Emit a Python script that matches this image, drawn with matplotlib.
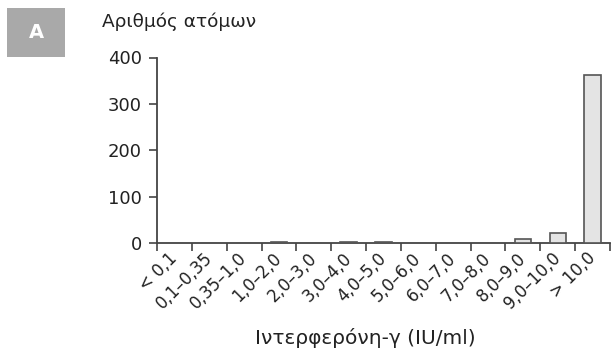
import matplotlib
matplotlib.use("Agg")
import matplotlib.pyplot as plt
import matplotlib.transforms as mtransforms

# Data
categories = ["< 0,1", "0,1–0,35", "0,35–1,0", "1,0–2,0", "2,0–3,0", "3,0–4,0",
              "4,0–5,0", "5,0–6,0", "6,0–7,0", "7,0–8,0", "8,0–9,0", "9,0–10,0", "> 10,0"]
counts = [0, 0, 0, 3, 1, 2, 3, 1, 1, 1, 9, 22, 362]

yTicks = [0, 100, 200, 300, 400]
yLabel = "Αριθμός ατόμων"
xLabel = "Ιντερφερόνη-γ (IU/ml)"
panel = "A"

plt.rcParams["font.family"] = ["DejaVu Sans"]
textColor = "#222222"
axisColor = "#444444"

fig = plt.figure(figsize=(6.15, 3.52), dpi=100)
ax = fig.add_axes([157/615, 1-243/352, (610-157)/615, (243-57.5)/352])

pos = list(range(len(categories)))
ax.bar(pos, counts, width=0.47, color="#e4e4e4", edgecolor="#555555", linewidth=1.2, zorder=3)

ax.set_xlim(-0.5, len(categories) - 0.5)
ax.set_ylim(0, 400)
ax.set_yticks(yTicks)
ax.set_yticklabels([str(t) for t in yTicks], fontsize=13, color=textColor)

# ticks at the bin edges, labels at the bin centres
ax.set_xticks([p - 0.5 for p in pos] + [len(categories) - 0.5])
ax.set_xticklabels([])
ax.set_xticks(pos, minor=True)
ax.set_xticklabels(categories, minor=True, rotation=45, ha="right", va="center",
                   rotation_mode="anchor", fontsize=12, color=textColor)
shift = mtransforms.ScaledTranslation(5/100, 2/100, fig.dpi_scale_trans)
for lbl in ax.get_xticklabels(minor=True):
    lbl.set_transform(lbl.get_transform() + shift)
ax.tick_params(axis="x", which="minor", length=0, pad=9)
ax.tick_params(axis="x", which="major", length=6, width=1.2, color=axisColor, direction="out")
ax.tick_params(axis="y", length=6, width=1.2, color=axisColor, pad=5)

for side in ["top", "right"]:
    ax.spines[side].set_visible(False)
for side in ["left", "bottom"]:
    ax.spines[side].set_color(axisColor)
    ax.spines[side].set_linewidth(1.3)

fig.text(102/615, 1-22/352, yLabel, fontsize=13.3, color=textColor, ha="left", va="center")
fig.text(365/615, 1-338/352, xLabel, fontsize=14.5, color=textColor, ha="center", va="center")

# panel letter box
fig.patches.append(plt.Rectangle((7/615, 1-57/352), 58/615, 49/352, transform=fig.transFigure,
                                 facecolor="#a9a9a9", edgecolor="none"))
fig.text(36/615, 1-33/352, panel, fontsize=14, color="white", fontweight="bold", ha="center", va="center")

fig.savefig("out.png", dpi=100)
print("Figure out.png created.")
